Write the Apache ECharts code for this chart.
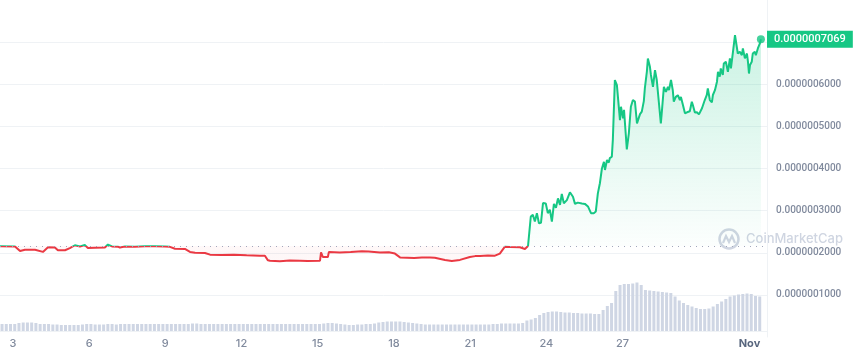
<!DOCTYPE html>
<html>
<head>
<meta charset="utf-8">
<script src="https://cdn.jsdelivr.net/npm/echarts@6/dist/echarts.min.js"></script>
<style>
html, body { margin: 0; padding: 0; background: #fff; }
#chart { width: 853px; height: 354px; }
</style>
</head>
<body>
<div id="chart"></div>
<script>
// prices are stored in units of 0.0000000001 (10 decimals, as on the axis)
var UNIT = 1e-10;
// price at the start of the period (dotted reference line)
var openPrice = 2163;
// day of month (October; 32 = Nov 1), price
var priceFlat = [
    [2.49, 2152], [3.08, 2150], [3.28, 2040], [3.47, 2070], [3.87, 2070],
    [4.18, 2020], [4.38, 2130], [4.65, 2125], [4.77, 2060], [5.05, 2060],
    [5.24, 2110], [5.44, 2178], [5.64, 2150], [5.83, 2182], [5.95, 2115],
    [6.23, 2120], [6.62, 2125], [6.74, 2195], [6.90, 2150], [7.13, 2145],
    [7.21, 2125], [7.41, 2150], [7.8, 2145], [8.2, 2155], [8.6, 2155],
    [8.98, 2150], [9.18, 2140], [9.38, 2095], [9.77, 2090], [9.97, 2020],
    [10.17, 2000], [10.56, 1995], [10.76, 1955], [11.2, 1945], [11.7, 1955],
    [12.2, 1940], [12.72, 1930], [12.92, 1930], [13.04, 1820], [13.12, 1810],
    [13.51, 1800], [13.9, 1815], [14.3, 1810], [14.6, 1805], [15.09, 1810],
    [15.13, 2010], [15.2, 1900], [15.4, 1900], [15.44, 2020], [15.87, 2005],
    [16.3, 2015], [16.74, 2035], [17.0, 2030], [17.45, 2005], [17.8, 2010],
    [18.04, 1980], [18.24, 1890], [18.8, 1875], [19.1, 1890], [19.42, 1885],
    [19.61, 1880], [20.01, 1830], [20.28, 1805], [20.6, 1830], [20.99, 1900],
    [21.2, 1920], [21.39, 1925], [21.7, 1935], [21.98, 1930], [22.17, 1980],
    [22.37, 2145], [22.57, 2135], [22.96, 2130], [23.16, 2090], [23.28, 2158]
];
var priceRally = [
    [23.39, 2860], [23.47, 2900], [23.55, 2740], [23.63, 2940], [23.71, 2700],
    [23.79, 2710], [23.87, 3180], [23.98, 3170], [24.06, 2940], [24.14, 3020],
    [24.22, 2740], [24.30, 3160], [24.38, 3070], [24.46, 3290], [24.54, 3135],
    [24.61, 3395], [24.69, 3175], [24.81, 3250], [24.93, 3435], [25.05, 3330],
    [25.13, 3160], [25.24, 3190], [25.40, 3170], [25.52, 3160], [25.64, 3100],
    [25.76, 2940], [25.87, 2940], [25.95, 2980], [26.03, 3410], [26.11, 3650],
    [26.19, 4000], [26.27, 4160], [26.31, 3965], [26.39, 4200], [26.46, 4140],
    [26.50, 4245], [26.58, 4280], [26.62, 4680], [26.70, 6100], [26.78, 5980],
    [26.82, 5700], [26.86, 5740], [26.90, 5150], [26.94, 5465], [27.02, 5190],
    [27.06, 5390], [27.13, 4800], [27.17, 4455], [27.25, 4835], [27.33, 5465],
    [27.41, 5625], [27.49, 5590], [27.57, 5070], [27.61, 5030], [27.69, 5290],
    [27.76, 5350], [27.84, 5600], [27.88, 5900], [27.96, 6300], [28.00, 6610],
    [28.08, 6415], [28.12, 6220], [28.20, 5940], [28.28, 6335], [28.35, 6100],
    [28.43, 5585], [28.51, 5070], [28.55, 5350], [28.63, 5940], [28.71, 5820],
    [28.79, 5940], [28.83, 5860], [28.91, 6100], [28.98, 5860], [29.02, 5585],
    [29.10, 5700], [29.18, 5740], [29.26, 5625], [29.30, 5700], [29.38, 5505],
    [29.46, 5310], [29.54, 5335], [29.61, 5350], [29.65, 5360], [29.73, 5585],
    [29.77, 5505], [29.85, 5330], [29.93, 5335], [30.01, 5285], [30.05, 5250],
    [30.13, 5430], [30.17, 5465], [30.24, 5625], [30.32, 5745], [30.36, 5900],
    [30.44, 5625], [30.52, 5570], [30.56, 5745], [30.64, 5860], [30.72, 6060],
    [30.76, 6295], [30.83, 6180], [30.87, 6375], [30.95, 6220], [30.99, 6495],
    [31.07, 6535], [31.15, 6295], [31.23, 6615], [31.27, 6375], [31.35, 6770],
    [31.43, 7165], [31.50, 7125], [31.54, 6730], [31.62, 6770], [31.70, 6690],
    [31.74, 6850], [31.82, 6615], [31.90, 6730], [31.94, 6535], [31.98, 6255],
    [32.02, 6455], [32.09, 6535], [32.13, 6730], [32.21, 6770], [32.25, 6690],
    [32.33, 6850], [32.41, 6970], [32.45, 7069]
];
// volume, one bar every 4 hours starting Oct 2 ~13:40 (relative units)
var volumeStartDay = 2.57;
var volume = [
    7, 7, 7, 7, 8, 8.5, 8.5, 8.5, 8, 7,
    7, 7, 6.5, 6.5, 6, 6, 6, 6, 6, 6.5,
    7, 7, 6.5, 6.5, 6.5, 7, 7, 6.5, 7, 7,
    7, 7, 7, 7, 7, 7, 7, 7, 7, 7,
    7, 7, 7, 7, 7, 7.5, 7.5, 7, 7, 7,
    7, 7, 7, 7, 7, 7, 7, 7, 7, 7,
    7, 7, 7, 7, 7, 7, 7, 7, 7, 7,
    7, 7, 7, 7, 7, 7, 7.5, 8, 8, 7.5,
    7, 6.5, 6, 6, 6.5, 6.5, 7, 7, 7.5, 8.5,
    9, 9.5, 9.5, 9.5, 9.5, 9, 8.5, 8, 7.5, 7,
    6.5, 6.5, 6.5, 6.5, 6.5, 6.5, 6.5, 6.5, 6.5, 6.5,
    6.5, 6.5, 6.5, 6.5, 6.5, 6.5, 7, 7, 7.5, 7.5,
    7.5, 7.5, 7.5, 8, 10.5, 11.5, 13, 16, 18, 19,
    19.5, 19.5, 19, 18.5, 18.5, 18, 18, 17.5, 17.5, 17.5,
    17, 17, 21, 25, 28, 40, 46, 47, 47, 47.5,
    48.5, 46, 41, 40.5, 40, 39.5, 39, 38.5, 38, 34.5,
    30.5, 28, 26, 24.5, 23, 22, 22, 22.5, 24.5, 27,
    29.5, 32, 34.5, 35.5, 36.5, 37, 37.5, 37, 35, 34.5
];
var dayTicks = [3, 6, 9, 12, 15, 18, 21, 24, 27, 32];
var dayTickLabels = ["3", "6", "9", "12", "15", "18", "21", "24", "27", "Nov"];

var RED = "#ea3943";
var GREEN = "#16c784";
var GRID = "#eff2f5";
var TEXT = "#808a9d";
var MARK = "rgba(160,172,196,0.5)";

var prices = priceFlat.concat(priceRally);
var lastPrice = prices[prices.length - 1];
var priceData = prices.map(p => [p[0], p[1] * UNIT]);
var volumeData = volume.map((v, i) => [volumeStartDay + i / 6, v]);
var pMax = Math.max.apply(null, prices.map(p => p[1]));

var myChart = echarts.init(document.querySelector("#chart"));
var option = {
    animation: false,
    textStyle: { fontFamily: "Inter" },
    grid: [
        { left: 0, right: 86, top: 0, bottom: 17 },
        { left: 0, right: 86, top: 271, bottom: 23 }
    ],
    xAxis: [
        { gridIndex: 0, type: "value", min: 2.49, max: 32.69, show: false },
        {
            gridIndex: 1, type: "value", min: 2.49, max: 32.69,
            splitLine: { show: false },
            axisTick: { show: false },
            axisLine: { lineStyle: { color: GRID } },
            axisLabel: {
                customValues: dayTicks,
                margin: 7,
                color: TEXT,
                fontSize: 11,
                fontWeight: 500,
                formatter: function (v) {
                    var s = dayTickLabels[dayTicks.indexOf(v)];
                    return s === "Nov" ? "{m|Nov}" : s;
                },
                rich: {
                    m: { color: "#58667e", fontWeight: 700, fontSize: 11 }
                }
            }
        }
    ],
    yAxis: [
        {
            gridIndex: 0, type: "value", position: "right",
            min: 0, max: 8e-7, interval: 1e-7,
            axisLine: { show: true, lineStyle: { color: GRID } },
            axisTick: { show: false },
            splitLine: { lineStyle: { color: GRID }, showMinLine: false, showMaxLine: false },
            axisLabel: {
                margin: 9,
                color: TEXT,
                fontSize: 10,
                fontFamily: "Roboto",
                fontWeight: 500,
                formatter: function (v) {
                    if (v <= 0 || v > 7.5e-7) return "";
                    return v.toFixed(10);
                }
            }
        },
        { gridIndex: 1, type: "value", min: 0, max: 60, show: false }
    ],
    graphic: [{
        type: "group",
        left: 717,
        top: 227,
        silent: true,
        children: [
            { type: "circle", shape: { cx: 11, cy: 11, r: 9.5 }, style: { fill: "none", stroke: MARK, lineWidth: 2.5 } },
            { type: "polyline", shape: { points: [[5, 15], [8, 8], [11, 14], [14, 8], [17, 15]] }, style: { fill: "none", stroke: MARK, lineWidth: 2.2 } },
            { type: "text", x: 28, y: 11, style: { text: "CoinMarketCap", font: "500 13px Inter", fill: MARK, verticalAlign: "middle" } }
        ]
    }],
    series: [
        {
            type: "line",
            xAxisIndex: 0,
            yAxisIndex: 0,
            data: priceData,
            showSymbol: false,
            lineStyle: { width: 2, color: GREEN },
            areaStyle: { origin: openPrice * UNIT, color: "rgba(22,199,132,0.15)" },
            z: 3
        },
        {
            type: "scatter",
            xAxisIndex: 0,
            yAxisIndex: 0,
            data: [[lastPrice[0], lastPrice[1] * UNIT]],
            symbolSize: 8,
            itemStyle: { color: GREEN },
            silent: true,
            z: 4,
            markLine: {
                silent: true,
                symbol: "none",
                precision: 10,
                data: [
                    {
                        yAxis: openPrice * UNIT,
                        lineStyle: { color: "#a1a7bb", width: 1, type: [1, 5] },
                        label: { show: false }
                    },
                    {
                        yAxis: lastPrice[1] * UNIT,
                        lineStyle: { color: "transparent", width: 0 },
                        label: {
                            show: true,
                            position: "end",
                            distance: 0,
                            formatter: (lastPrice[1] * UNIT).toFixed(10),
                            backgroundColor: GREEN,
                            color: "#fff",
                            fontFamily: "Roboto",
                            fontSize: 11,
                            fontWeight: 500,
                            padding: [3, 7]
                        }
                    }
                ]
            }
        },
        {
            type: "bar",
            xAxisIndex: 1,
            yAxisIndex: 1,
            data: volumeData,
            barWidth: 3,
            itemStyle: { color: "#cfd6e4" },
            silent: true
        }
    ]
};
myChart.setOption(option);

// colour the line and area against the opening price, in page pixels
var H = myChart.getHeight();
var yRef = myChart.convertToPixel({ yAxisIndex: 0 }, openPrice * UNIT) / H;
var yTop = myChart.convertToPixel({ yAxisIndex: 0 }, pMax * UNIT) / H;
myChart.setOption({
    series: [{
        lineStyle: {
            color: {
                type: "linear", x: 0, y: 0, x2: 0, y2: H, global: true,
                colorStops: [
                    { offset: 0, color: GREEN },
                    { offset: yRef, color: GREEN },
                    { offset: yRef, color: RED },
                    { offset: 1, color: RED }
                ]
            }
        },
        areaStyle: {
            color: {
                type: "linear", x: 0, y: 0, x2: 0, y2: H, global: true,
                colorStops: [
                    { offset: 0, color: "rgba(22,199,132,0.32)" },
                    { offset: yTop, color: "rgba(22,199,132,0.32)" },
                    { offset: yRef, color: "rgba(22,199,132,0.02)" },
                    { offset: yRef, color: "rgba(234,57,67,0.05)" },
                    { offset: 1, color: "rgba(234,57,67,0.10)" }
                ]
            }
        }
    }]
});
</script>
</body>
</html>
